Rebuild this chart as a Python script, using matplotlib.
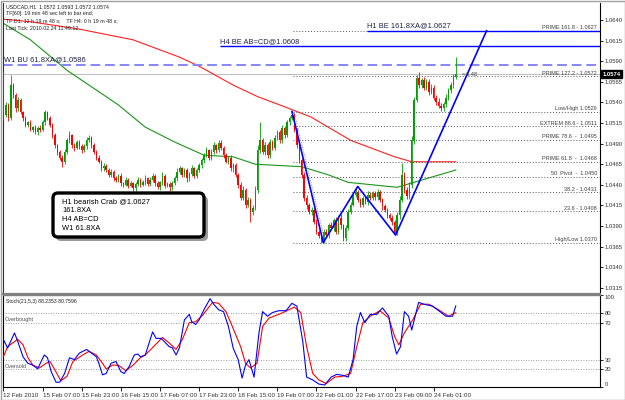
import matplotlib
matplotlib.use("Agg")
import matplotlib.pyplot as plt
import matplotlib.transforms as mtransforms
from matplotlib.patches import FancyBboxPatch, Rectangle

plt.rcParams['font.family'] = ['Liberation Sans', 'DejaVu Sans']

# ---------------- data ----------------
first_open = 1.0577
closes = [
    1.0525, 1.0537, 1.0521, 1.0561, 1.0549, 1.0533, 1.0543, 1.0528, 1.0521, 1.0513,
    1.0516, 1.0507, 1.0510, 1.0504, 1.0509, 1.0507, 1.0516, 1.0528, 1.0521, 1.0513,
    1.0500, 1.0488, 1.0480, 1.0473, 1.0468, 1.0480, 1.0494, 1.0500, 1.0488, 1.0485,
    1.0492, 1.0487, 1.0482, 1.0487, 1.0494, 1.0497, 1.0488, 1.0480, 1.0473, 1.0468,
    1.0460, 1.0463, 1.0458, 1.0452, 1.0456, 1.0448, 1.0446, 1.0451, 1.0442, 1.0440,
    1.0446, 1.0439, 1.0442, 1.0436, 1.0441, 1.0446, 1.0440, 1.0443, 1.0448, 1.0441,
    1.0446, 1.0451, 1.0442, 1.0437, 1.0443, 1.0451, 1.0439, 1.0441, 1.0437, 1.0442,
    1.0448, 1.0456, 1.0460, 1.0452, 1.0458, 1.0448, 1.0453, 1.0460, 1.0451, 1.0458,
    1.0464, 1.0470, 1.0476, 1.0482, 1.0473, 1.0480, 1.0488, 1.0482, 1.0491, 1.0485,
    1.0476, 1.0468, 1.0473, 1.0460, 1.0464, 1.0452, 1.0440, 1.0424, 1.0434, 1.0416,
    1.0422, 1.0407, 1.0412, 1.0434, 1.0482, 1.0494, 1.0480, 1.0488, 1.0476, 1.0492,
    1.0485, 1.0497, 1.0504, 1.0494, 1.0509, 1.0500, 1.0516, 1.0521, 1.0525, 1.0507,
    1.0488, 1.0470, 1.0452, 1.0424, 1.0416, 1.0407, 1.0410, 1.0395, 1.0383, 1.0378,
    1.0373, 1.0383, 1.0379, 1.0391, 1.0388, 1.0397, 1.0383, 1.0400, 1.0391, 1.0375,
    1.0388, 1.0407, 1.0416, 1.0428, 1.0431, 1.0422, 1.0416, 1.0424, 1.0419, 1.0428,
    1.0424, 1.0430, 1.0425, 1.0431, 1.0422, 1.0414, 1.0410, 1.0403, 1.0400, 1.0395,
    1.0382, 1.0403, 1.0422, 1.0452, 1.0434, 1.0426, 1.0440, 1.0494, 1.0543, 1.0570,
    1.0561, 1.0567, 1.0558, 1.0565, 1.0553, 1.0558, 1.0546, 1.0541, 1.0536, 1.0533,
    1.0538, 1.0546, 1.0555, 1.0561, 1.0571, 1.0574,
]
upper_wick_pips = [
    1, 3, 2, 12, 3, 2, 4, 3, 2, 3,
    2, 3, 2, 3, 2, 4, 3, 3, 2, 3,
    2, 3, 2, 2, 3, 4, 3, 5, 2, 3,
    3, 2, 3, 2, 4, 3, 2, 3, 2, 3,
    2, 3, 2, 3, 3, 2, 3, 2, 3, 2,
    3, 2, 3, 2, 3, 3, 2, 3, 4, 2,
    3, 3, 2, 3, 2, 5, 2, 3, 2, 3,
    3, 4, 3, 2, 3, 2, 3, 4, 2, 3,
    3, 2, 3, 4, 2, 3, 4, 2, 3, 3,
    2, 3, 2, 3, 2, 3, 2, 3, 4, 2,
    3, 2, 3, 4, 6, 22, 3, 4, 3, 4,
    3, 4, 3, 3, 4, 3, 3, 2, 3, 2,
    2, 3, 2, 3, 4, 2, 3, 2, 3, 2,
    2, 4, 3, 3, 4, 3, 4, 3, 4, 2,
    3, 4, 3, 3, 6, 3, 2, 3, 3, 4,
    3, 3, 3, 4, 3, 2, 3, 2, 3, 3,
    2, 4, 4, 14, 3, 3, 4, 5, 4, 3,
    7, 3, 4, 3, 3, 4, 3, 3, 4, 3,
    3, 4, 3, 4, 3, 21,
]
lower_wick_pips = [
    6, 3, 3, 2, 3, 4, 3, 2, 4, 3,
    3, 2, 3, 2, 3, 3, 2, 3, 2, 3,
    3, 3, 4, 3, 6, 3, 2, 3, 3, 4,
    2, 3, 3, 2, 3, 2, 3, 3, 3, 2,
    3, 3, 2, 3, 2, 3, 3, 2, 3, 3,
    2, 3, 2, 4, 3, 2, 3, 2, 3, 3,
    2, 3, 3, 2, 3, 3, 3, 2, 4, 3,
    2, 3, 3, 2, 3, 4, 3, 2, 3, 3,
    2, 3, 3, 2, 3, 3, 2, 3, 2, 3,
    3, 2, 3, 3, 4, 3, 4, 3, 3, 4,
    3, 12, 4, 3, 4, 3, 3, 4, 3, 3,
    3, 3, 2, 3, 3, 3, 2, 3, 2, 3,
    3, 3, 4, 4, 5, 3, 4, 3, 3, 3,
    3, 3, 4, 3, 3, 4, 3, 3, 4, 3,
    3, 3, 3, 2, 3, 3, 3, 3, 2, 3,
    3, 2, 3, 3, 3, 4, 3, 3, 3, 4,
    3, 3, 4, 3, 4, 3, 3, 4, 4, 3,
    3, 4, 3, 3, 4, 3, 3, 4, 3, 3,
    3, 3, 3, 4, 3, 3,
]

red_ma_bars = [0, 11, 31, 53, 72, 80, 94, 104, 113, 126, 142, 160, 167, 185]
red_ma_vals = [1.0641, 1.0638, 1.0629, 1.0616, 1.0595, 1.0584, 1.0561, 1.0547,
               1.0537, 1.0522, 1.0494, 1.0474, 1.0468, 1.0468]
green_ma_bars = [0, 11, 26, 39, 47, 58, 70, 82, 94, 103, 122, 133, 141, 161, 185]
green_ma_vals = [1.0636, 1.0616, 1.0579, 1.0553, 1.0537, 1.0510, 1.0492, 1.0476,
                 1.0474, 1.0465, 1.0462, 1.0452, 1.0443, 1.0437, 1.0458]

stoch_k_bars = [0, 1.7, 4.5, 5.8, 8, 10, 12, 14, 15.4, 16.7, 18, 19.5, 21.5, 23, 25, 27, 29, 31,
                34, 36, 38, 39, 40.5, 42, 44, 46, 48, 49.4, 51.4, 53.5, 55, 56, 58, 61, 62.4,
                64.5, 67.8, 69, 70.6, 72, 74, 76, 77, 78.6, 80, 82, 84.5, 86, 88, 90, 92, 94,
                96, 97.6, 99, 100.4, 102.5, 104.5, 106, 108, 110, 112.6, 115.6, 118, 120,
                122.4, 124, 126.5, 129, 131.4, 134, 136.3, 138.8, 141, 143, 144.5, 146,
                147.8, 150, 152.7, 155, 157.6, 159, 160.8, 162.4, 164, 165.7, 167, 168,
                169.8, 172, 175.5, 178, 181, 183.7, 185]
stoch_k_vals = [51.6, 42.6, 58.9, 50, 33, 26, 24, 20, 28, 35, 32, 17, 5.5, 5.5, 15, 32, 30, 37,
                41, 37, 33, 26, 13.5, 15, 26, 28, 17, 15, 22.5, 35, 36, 33, 35, 60, 53,
                53, 44, 43, 35, 43, 73, 79, 71, 68, 73, 84, 96, 90, 84, 82, 66, 42,
                30, 10, 24, 30, 11, 59, 82, 77, 81, 83, 83, 91, 88,
                50, 11, 8, 3.5, 2.5, 11, 14, 13, 11, 30, 66, 81,
                70, 79, 79, 86, 77, 55, 36, 44, 82, 77, 62, 73,
                92, 90, 88, 83, 77, 77, 88.2]
stoch_d_bars = [0, 1.7, 5.8, 8, 10, 12, 14.7, 17.4, 19, 21, 23.5, 26, 28.4, 32.4, 35, 38, 40.5,
                42, 44.6, 47, 50, 53, 56, 58, 61, 65, 67.8, 70.6, 73.2, 76, 78.6, 81.4,
                85.5, 88, 91, 93.6, 97, 99, 101, 103.7, 106, 108.6, 112.6, 116, 119,
                121.6, 124, 126.5, 129, 132, 135.5, 138.8, 142, 144.5, 147, 150, 154,
                157.6, 160, 161.7, 164, 167.4, 170.6, 174, 178, 182, 185]
stoch_d_vals = [33.4, 44, 52, 46, 32, 24, 21, 26, 28, 19, 7, 12, 28, 35, 39, 35, 26,
                20, 24, 24, 18, 24, 32, 35, 43, 54, 48, 41, 52, 70, 71, 78,
                92, 91, 82, 66, 44, 26, 21, 26, 66, 75, 79, 83, 87,
                81, 44, 15, 8, 4, 11, 12, 15, 44, 70, 77, 83,
                75, 55, 46, 59, 73, 90, 90, 84, 77, 80.76]

pattern_bars = [118, 130.8, 144.9, 160.4, 197.6]
pattern_prices = [1.0529, 1.0370, 1.0438, 1.0379, 1.0627]

fib_labels = ["PRIME 161.8 - 1.0627", "PRIME 127.2 - 1.0572", "Low/High 1.0529",
              "EXTREM 88.6 - 1.0511", "PRIME 78.6  -  1.0495", "PRIME 61.8  -  1.0468",
              "50  Pivot  -  1.0450", "38.2 - 1.0431", "23.6 - 1.0408", "High/Low 1.0370"]
fib_prices = [1.0627, 1.0572, 1.0529, 1.0511, 1.0495, 1.0468, 1.0450, 1.0431, 1.0408, 1.0370]

h1_level = 1.0627
h4_level = 1.0608
w1_level = 1.0586
bid_price = 1.0574

price_ticks = [1.0640, 1.0615, 1.0590, 1.0565, 1.0540, 1.0515, 1.0490, 1.0465,
               1.0440, 1.0415, 1.0390, 1.0365, 1.0340, 1.0315]
date_bars = [0, 16, 32, 48, 64, 80, 96, 112, 128, 144, 160, 176]
date_labels = ["12 Feb 2010", "15 Feb 07:00", "15 Feb 23:00", "16 Feb 15:00",
               "17 Feb 07:00", "17 Feb 23:00", "18 Feb 15:00", "19 Feb 07:00",
               "22 Feb 01:00", "22 Feb 17:00", "23 Feb 09:00", "24 Feb 01:00"]
stoch_levels = [80, 70, 30, 20]
stoch_ticks = [0, 20, 30, 70, 80, 100]

info_lines = ["USDCAD,H1  1.0572 1.0593 1.0572 1.0574",
              "TF[60]: 19 min 48 sec left to bar end;",
              "TF D1: 12 h 19 m 48 s;    TF H4: 0 h 19 m 48 s;",
              "Last Tick: 2010.02.24 11:49:12"]
note_lines = ["H1 bearish Crab @1.0627", "161.8XA", "H4 AB=CD", "W1 61.8XA"]

# ---------------- figure ----------------
W, H = 625, 400
fig = plt.figure(figsize=(W / 100, H / 100), dpi=100)
fig.patch.set_facecolor('white')


def fx(px):
    return px / W


def fy(py):
    return 1 - py / H


XL = (-0.2, 244.0)
ax1 = fig.add_axes([fx(3), fy(294), 597 / W, 291 / H])
ax1.set_xlim(*XL)
ax1.set_ylim(1.03075, 1.06607)
ax2 = fig.add_axes([fx(3), fy(387.3), 597 / W, 92.3 / H])
ax2.set_xlim(*XL)
ax2.set_ylim(0, 100)

# candles
opens = [first_open] + closes[:-1]
for i, (o, c) in enumerate(zip(opens, closes)):
    hi = max(o, c) + upper_wick_pips[i] * 0.0001
    lo = min(o, c) - lower_wick_pips[i] * 0.0001
    col = '#00a000' if c >= o else '#ff0000'
    ax1.vlines(i, lo, hi, color=col, lw=0.6, zorder=3)
    ax1.bar(i, max(abs(c - o), 0.00005), bottom=min(o, c), width=0.6, color=col,
            linewidth=0, zorder=3)

# moving averages
ax1.plot(red_ma_bars, red_ma_vals, color='#ff2020', lw=0.8, zorder=2)
ax1.plot(green_ma_bars, green_ma_vals, color='#1a961a', lw=0.8, zorder=2)

# horizontal levels
ax1.axhline(bid_price, color='#c0c0c0', lw=0.8, zorder=1)
ax1.axhline(w1_level, color='#8585ff', lw=1.4, dashes=(5, 2.5), zorder=2)
ax1.hlines(h4_level, 88.5, XL[1], color='#0000ff', lw=1.0, zorder=4)
ax1.hlines(h1_level, 148.7, XL[1], color='#0000ff', lw=1.0, zorder=4)
ax1.hlines(fib_prices, 118.4, XL[1], color='#555555', lw=0.7,
           linestyles=(0, (1, 2)), zorder=2)
ax1.plot([118.8, 131.8], [1.0529, 1.0368], color='#888888', lw=0.7,
         ls=(0, (1, 1.5)), zorder=2)

# harmonic pattern
ax1.plot(pattern_bars, pattern_prices, color='#0000ff', lw=1.2, zorder=5)

blend1 = mtransforms.blended_transform_factory(ax1.transAxes, ax1.transData)
for lab, p in zip(fib_labels, fib_prices):
    ax1.text(0.995, p + 0.00004, lab, transform=blend1, ha='right', va='bottom',
             fontsize=4.0, color='#404040', zorder=6)

ax1.text(0.002, w1_level + 0.0002, "W1 BU 61.8XA@1.0586", transform=blend1,
         ha='left', va='bottom', fontsize=5.4, color='#20204a', zorder=6)
ax1.text(88.5, h4_level + 0.0002, "H4 BE AB=CD@1.0608", ha='left', va='bottom',
         fontsize=5.4, color='#20204a', zorder=6)
ax1.text(148.7, h1_level + 0.0002, "H1 BE 161.8XA@1.0627", ha='left', va='bottom',
         fontsize=5.4, color='#20204a', zorder=6)
ax1.text(187.5, bid_price, "<-8.48", ha='left', va='center', fontsize=4.0,
         color='#404040', zorder=6)
ax1.text(1.004, bid_price, f"{bid_price:.4f}", transform=blend1, ha='left', va='center',
         fontsize=4.2, color='white', fontweight='bold', zorder=7, clip_on=False,
         bbox=dict(boxstyle='square,pad=0.25', fc='black', ec='black'))

ax1.yaxis.tick_right()
ax1.set_yticks(price_ticks)
ax1.set_yticklabels([f"{t:.4f}" for t in price_ticks])
ax1.tick_params(axis='y', which='both', length=2, width=0.6, pad=1.5,
                labelsize=4.2, labelcolor='#303030', color='black')
ax1.set_xticks([])
for s in ['top']:
    ax1.spines[s].set_visible(False)
ax1.spines['left'].set_color('#303030')
ax1.spines['left'].set_linewidth(0.8)
ax1.spines['right'].set_color('black')
ax1.spines['right'].set_linewidth(0.8)
ax1.spines['bottom'].set_color('#808080')
ax1.spines['bottom'].set_linewidth(1.6)

# stochastic
ax2.plot(stoch_d_bars, stoch_d_vals, color='#ff0000', lw=0.8, zorder=3)
ax2.plot(stoch_k_bars, stoch_k_vals, color='#0000ff', lw=0.8, zorder=4)
for lv in stoch_levels:
    ax2.axhline(lv, color='#808080', lw=0.6, ls=(0, (1, 2)), zorder=1)
ax2.yaxis.tick_right()
ax2.set_yticks(stoch_ticks)
ax2.set_yticklabels([str(t) for t in stoch_ticks])
ax2.tick_params(axis='y', length=2, width=0.6, pad=1.5, labelsize=4.2, labelcolor='#303030')
for lab, t in zip(ax2.get_yticklabels(), stoch_ticks):
    if t == 100:
        lab.set_verticalalignment('top')
    elif t == 0:
        lab.set_verticalalignment('bottom')
ax2.set_xticks(date_bars)
ax2.set_xticklabels(date_labels)
ax2.tick_params(axis='x', length=3, width=0.6, pad=0.8, labelsize=4.5, labelcolor='#303030')
for lab in ax2.get_xticklabels():
    lab.set_horizontalalignment('left')
for s in ['left', 'right', 'bottom']:
    ax2.spines[s].set_color('black')
    ax2.spines[s].set_linewidth(0.8)
ax2.spines['top'].set_color('#808080')
ax2.spines['top'].set_linewidth(1.0)

# overlay in pixel coordinates for free text / box
ov = fig.add_axes([0, 0, 1, 1], zorder=10)
ov.set_xlim(0, W)
ov.set_ylim(H, 0)
ov.axis('off')
ov.patch.set_alpha(0)

for k, line in enumerate(info_lines):
    ov.text(6, 7 + 7 * k, line, ha='left', va='center', fontsize=3.8, color='#202020')

ov.text(6, 301, "Stoch(21,5,3) 88.2353 80.7596", ha='left', va='center', fontsize=3.7,
        color='#202020')
ov.text(5, 320, "Overbought", ha='left', va='center', fontsize=4.0, color='#505050')
ov.text(5, 366, "Oversold", ha='left', va='center', fontsize=4.0, color='#505050')

shadow = FancyBboxPatch((56, 196), 152, 45, boxstyle='round,pad=0,rounding_size=5',
                        fc='#9a9a9a', ec='none')
ov.add_patch(shadow)
box = FancyBboxPatch((53, 193), 151, 44, boxstyle='round,pad=0,rounding_size=5',
                     fc='white', ec='black', lw=2.4)
ov.add_patch(box)
for k, line in enumerate(note_lines):
    ov.text(62, 202 + 8.7 * k, line, ha='left', va='center', fontsize=5.4, color='black')

ov.add_patch(Rectangle((0.5, 0.5), W - 1, H - 1, fill=False, ec='#a0a0a0', lw=1))

fig.savefig('out.png', dpi=100, facecolor='white')
